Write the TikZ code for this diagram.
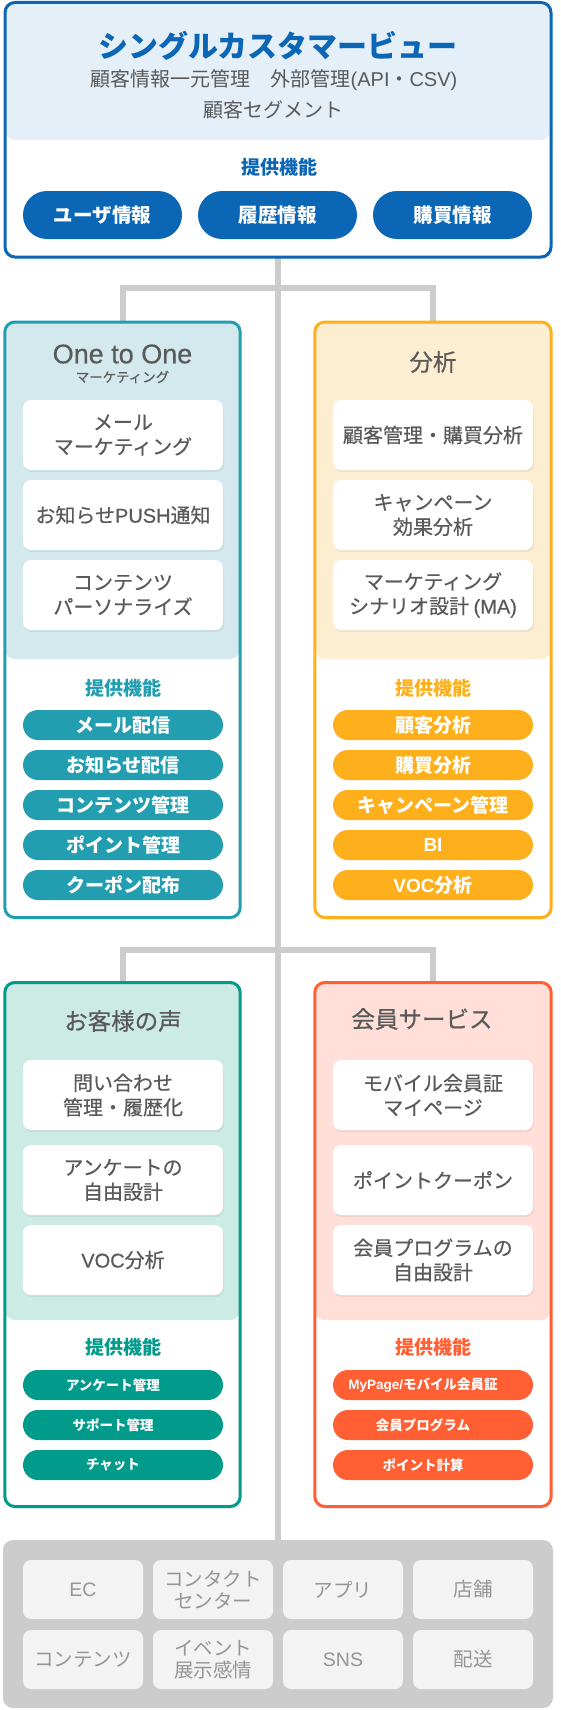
\documentclass[tikz,border=0pt]{standalone}
\usepackage{fontspec}
\setmainfont{Noto Sans CJK JP}
\newfontfamily\med[FakeBold=0.5]{Noto Sans CJK JP}
\newfontfamily\lat{Liberation Sans}
\newfontfamily\latmed[FakeBold=0.5]{Liberation Sans}
\usetikzlibrary{shadows,backgrounds,calc}
\definecolor{cBlue}{HTML}{0B66B5}
\definecolor{cBlueL}{HTML}{E4EFF8}
\definecolor{cTeal}{HTML}{239EB0}
\definecolor{cTealL}{HTML}{D3E9ED}
\definecolor{cOrg}{HTML}{FEAF1C}
\definecolor{cOrgL}{HTML}{FEEED1}
\definecolor{cGrn}{HTML}{009B8B}
\definecolor{cGrnL}{HTML}{CDEBE5}
\definecolor{cRed}{HTML}{FF5F33}
\definecolor{cRedL}{HTML}{FFDFD8}
\definecolor{cLine}{HTML}{CCCCCC}
\definecolor{cTxt}{HTML}{5A5A5A}
\definecolor{cCell}{HTML}{F3F3F3}
\definecolor{cCellTxt}{HTML}{959595}
\newcommand\myfs[2]{\fontsize{#1}{#2}\selectfont}
\begin{document}
\begin{tikzpicture}[x=1pt,y=-1pt,
  conn/.style={draw=cLine, line width=6pt, line join=miter},
  panel/.style={rectangle, rounded corners=10pt, line width=3pt, fill=white,
    inner sep=0pt, outer sep=0pt,
    drop shadow={shadow xshift=1pt, shadow yshift=-2pt, opacity=0.12}},
  hdr/.style 2 args={path picture={\fill[#1] (path picture bounding box.north west)
    rectangle ([yshift=-#2]path picture bounding box.north east);}},
  card/.style={rectangle, rounded corners=8pt, fill=white, minimum width=200pt,
    minimum height=70pt, inner sep=0pt, text=cTxt, align=center,
    font=\med\myfs{20}{24.5},
    drop shadow={shadow xshift=1pt, shadow yshift=-2pt, opacity=0.12}},
  pill/.style={rectangle, rounded corners=15pt, fill=#1, minimum width=200pt,
    minimum height=30pt, inner sep=0pt, text=white, font=\bfseries\myfs{19}{22}},
  pilltxt/.style={text=white, inner sep=0pt, font=\bfseries\myfs{13.5}{16}},
  bigpill/.style={rectangle, rounded corners=24pt, fill=cBlue, minimum width=159pt,
    minimum height=48pt, inner sep=0pt, text=white, font=\bfseries\myfs{19.5}{22}},
  ptitle/.style={text=cTxt, inner sep=0pt, font=\med\myfs{23.5}{28}},
  feat/.style={text=#1, inner sep=0pt, font=\bfseries\myfs{19}{22}},
  cell/.style={rectangle, rounded corners=8pt, fill=cCell, minimum width=120pt,
    minimum height=59pt, inner sep=0pt, text=cCellTxt, align=center,
    font=\myfs{19.5}{22}}
]
\useasboundingbox (0,0) rectangle (560,1710);

% ---------- top box ----------
\node[panel, draw=cBlue, minimum width=546pt, minimum height=254.5pt,
  hdr={cBlueL}{137.5pt}] (top) at (278,129.75) {};
\node[text=cBlue, inner sep=0pt, font=\bfseries\myfs{30}{34}] (ttl) at (278,46) {シングルカスタマービュー};
\node[text=cTxt, inner sep=0pt, font=\myfs{20}{24}] (sub1) at (274,80) {顧客情報一元管理　外部管理{\lat (API}・{\lat CSV)}};
\node[text=cTxt, inner sep=0pt, font=\myfs{20}{24}] (sub2) at (273,110) {顧客セグメント};
\node[feat=cBlue] (f0) at (279,167) {提供機能};
\node[bigpill] (q1) at (102.5,215) {ユーザ情報};
\node[bigpill] (q2) at (277.5,215) {履歴情報};
\node[bigpill] (q3) at (452.5,215) {購買情報};

% ---------- One to One ----------
\node[panel, draw=cTeal, minimum width=235.4pt, minimum height=595.5pt,
  hdr={cTealL}{337pt}] (b1) at (122.5,619.75) {};
\node[text=cTxt, inner sep=0pt, font=\latmed\myfs{27}{30}] (t1) at (122.5,354) {One to One};
\node[text=cTxt, inner sep=0pt, font=\med\myfs{13.5}{16}] (t1s) at (122.5,377) {マーケティング};
\node[card] (c11) at (123,435) {メール\\マーケティング};
\node[card] (c12) at (123,515) {お知らせ{\latmed PUSH}通知};
\node[card] (c13) at (123,595) {コンテンツ\\パーソナライズ};
\node[feat=cTeal] (f1) at (123,688) {提供機能};
\node[pill=cTeal] (p11) at (123,725) {メール配信};
\node[pill=cTeal] (p12) at (123,765) {お知らせ配信};
\node[pill=cTeal] (p13) at (123,805) {コンテンツ管理};
\node[pill=cTeal] (p14) at (123,845) {ポイント管理};
\node[pill=cTeal] (p15) at (123,885) {クーポン配布};

% ---------- 分析 ----------
\node[panel, draw=cOrg, minimum width=236.4pt, minimum height=595.5pt,
  hdr={cOrgL}{337pt}] (b2) at (433,619.75) {};
\node[ptitle] (t2) at (433,362) {分析};
\node[card] (c21) at (433,435) {顧客管理・購買分析};
\node[card] (c22) at (433,515) {キャンペーン\\効果分析};
\node[card] (c23) at (433,595) {マーケティング\\シナリオ設計 {\latmed (MA)}};
\node[feat=cOrg] (f2) at (433,688) {提供機能};
\node[pill=cOrg] (p21) at (433,725) {顧客分析};
\node[pill=cOrg] (p22) at (433,765) {購買分析};
\node[pill=cOrg] (p23) at (433,805) {キャンペーン管理};
\node[pill=cOrg] (p24) at (433,845) {\lat BI};
\node[pill=cOrg] (p25) at (433,885) {{\lat VOC}分析};

% ---------- お客様の声 ----------
\node[panel, draw=cGrn, minimum width=235.4pt, minimum height=524pt,
  hdr={cGrnL}{337.5pt}] (b3) at (122.5,1244.5) {};
\node[ptitle] (t3) at (123,1021) {お客様の声};
\node[card] (c31) at (123,1095) {問い合わせ\\管理・履歴化};
\node[card] (c32) at (123,1180) {アンケートの\\自由設計};
\node[card] (c33) at (123,1260) {{\latmed VOC}分析};
\node[feat=cGrn] (f3) at (123,1347) {提供機能};
\node[pill=cGrn] (p31) at (123,1385) {};
\node[pill=cGrn] (p32) at (123,1425) {};
\node[pill=cGrn] (p33) at (123,1465) {};
\node[pilltxt] (s31) at (113,1385) {アンケート管理};
\node[pilltxt] (s32) at (113,1425) {サポート管理};
\node[pilltxt] (s33) at (113,1465) {チャット};

% ---------- 会員サービス ----------
\node[panel, draw=cRed, minimum width=236.4pt, minimum height=524pt,
  hdr={cRedL}{337.5pt}] (b4) at (433,1244.5) {};
\node[ptitle] (t4) at (422,1019) {会員サービス};
\node[card] (c41) at (433,1095) {モバイル会員証\\マイページ};
\node[card] (c42) at (433,1180) {ポイントクーポン};
\node[card] (c43) at (433,1260) {会員プログラムの\\自由設計};
\node[feat=cRed] (f4) at (433,1347) {提供機能};
\node[pill=cRed] (p41) at (433,1385) {};
\node[pill=cRed] (p42) at (433,1425) {};
\node[pill=cRed] (p43) at (433,1465) {};
\node[pilltxt] (s41) at (423,1385) {{\lat MyPage/}モバイル会員証};
\node[pilltxt] (s42) at (423,1425) {会員プログラム};
\node[pilltxt] (s43) at (423,1465) {ポイント計算};

% ---------- bottom channels ----------
\node[rectangle, rounded corners=10pt, fill=cLine, minimum width=550pt,
  minimum height=168pt, inner sep=0pt] (bot) at (278,1624) {};
\node[cell] (e1) at (83,1589.5) {\lat EC};
\node[cell] (e2) at (213,1589.5) {コンタクト\\センター};
\node[cell] (e3) at (343,1589.5) {アプリ};
\node[cell] (e4) at (473,1589.5) {店舗};
\node[cell] (e5) at (83,1659.5) {コンテンツ};
\node[cell] (e6) at (213,1659.5) {イベント\\展示感情};
\node[cell] (e7) at (343,1659.5) {\lat SNS};
\node[cell] (e8) at (473,1659.5) {配送};

% ---------- connectors ----------
\begin{pgfonlayer}{background}
\coordinate (j1) at (278,288);
\coordinate (j2) at (278,950);
\draw[conn] (top.south) -- (top.south |- bot.north);
\draw[conn] (b1.north) |- (j1) -| (b2.north);
\draw[conn] (b3.north) |- (j2) -| (b4.north);
\end{pgfonlayer}
\end{tikzpicture}
\end{document}
